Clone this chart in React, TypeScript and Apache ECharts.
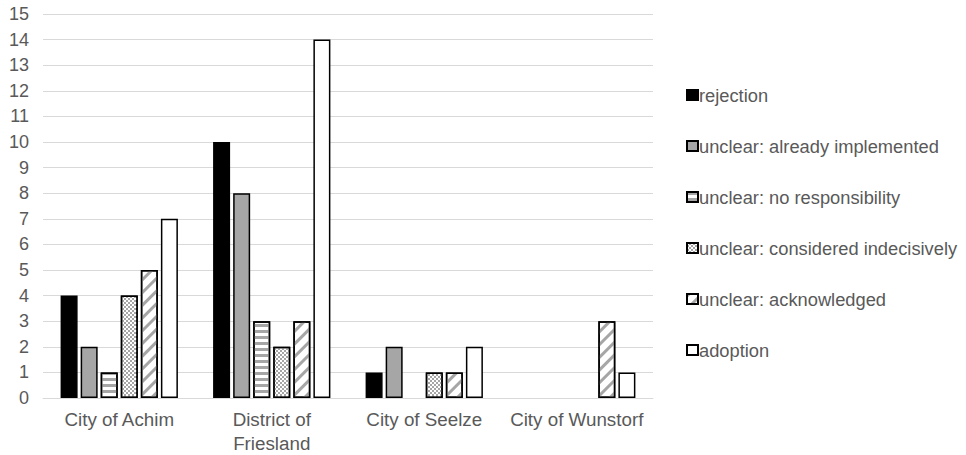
import React, { useEffect, useRef } from "react";
import * as echarts from "echarts";

const categories = ["City of Achim", "District of\nFriesland", "City of Seelze", "City of Wunstorf"];
const seriesNames = [
  "rejection",
  "unclear: already implemented",
  "unclear: no responsibility",
  "unclear: considered indecisively",
  "unclear: acknowledged",
  "adoption",
];
const rejection = [4, 10, 1, 0];
const alreadyImplemented = [2, 8, 2, 0];
const noResponsibility = [1, 3, 0, 0];
const consideredIndecisively = [4, 2, 1, 0];
const acknowledged = [5, 3, 1, 3];
const adoption = [7, 14, 2, 1];
const yTicks = { min: 0, max: 15, interval: 1 };

const GRAY = "#a6a6a6";

const styles: any[] = [
  { color: "#000000" },
  { color: GRAY },
  { color: "#ffffff", decal: { symbol: "rect", symbolSize: 1, color: GRAY, dashArrayX: [1, 0], dashArrayY: [3, 3], rotation: 0 } },
  { color: "#ffffff", decal: { symbol: "rect", symbolSize: 1, color: GRAY, dashArrayX: [[2, 2], [0, 2, 2, 0]], dashArrayY: [2, 0], rotation: 0 } },
  { color: "#ffffff", decal: { symbol: "rect", symbolSize: 1, color: GRAY, dashArrayX: [1, 0], dashArrayY: [3, 6], rotation: -Math.PI / 4 } },
  { color: "#ffffff" },
];

const dataSets = [rejection, alreadyImplemented, noResponsibility, consideredIndecisively, acknowledged, adoption];

export default function App() {
  const ref = useRef<HTMLDivElement>(null);
  useEffect(() => {
    if (!ref.current) return;
    const chart = echarts.init(ref.current, undefined, { renderer: "svg" });
    const font = "'Liberation Sans', Arial, sans-serif";
    chart.setOption({
      animation: false,
      textStyle: { fontFamily: font },
      grid: { left: 43, right: 313, top: 14, bottom: 56, containLabel: false },
      legend: {
        orient: "vertical",
        left: 681,
        top: 81,
        itemWidth: 11,
        itemHeight: 10,
        itemGap: 33,
        icon: "rect",
        textStyle: { color: "#595959", fontSize: 18.3, fontFamily: font, padding: [0, 0, 0, -4] },
        data: seriesNames,
      },
      xAxis: {
        type: "category",
        data: categories,
        axisLine: { lineStyle: { color: "#d9d9d9", width: 1 } },
        axisTick: { show: false },
        axisLabel: { interval: 0, hideOverlap: false, color: "#595959", fontSize: 18.8, margin: 9, lineHeight: 24, fontFamily: font },
      },
      yAxis: {
        type: "value",
        min: yTicks.min,
        max: yTicks.max,
        interval: yTicks.interval,
        axisLine: { show: false },
        axisTick: { show: false },
        splitLine: { lineStyle: { color: "#d9d9d9", width: 1 } },
        axisLabel: { color: "#595959", fontSize: 18, margin: 14, fontFamily: font },
      },
      series: seriesNames.map((name, i) => ({
        name,
        type: "bar",
        data: dataSets[i].map((v) => (v === 0 ? "-" : v)),
        barWidth: 17,
        barGap: "18%",
        itemStyle: { ...styles[i], borderColor: "#000000", borderWidth: 1.5 },
      })),
    });
    return () => chart.dispose();
  }, []);
  return <div ref={ref} style={{ position: "absolute", left: 0, top: 0, width: 966, height: 455 }} />;
}
